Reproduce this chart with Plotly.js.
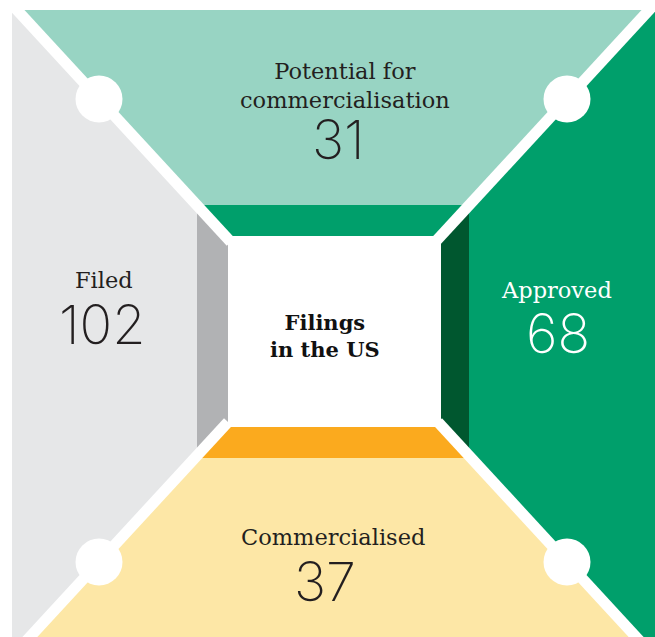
<!DOCTYPE html>
<html><head><meta charset="utf-8">
<script src="https://cdn.plot.ly/plotly-3.0.1.min.js"></script>
<style>html,body{margin:0;padding:0;background:#fff}</style>
</head><body><div id="chart" style="width:655px;height:637px"></div>
<script>
// Data
const categories = ['Filed', 'Potential for<br>commercialisation', 'Approved', 'Commercialised'];
const values = [102, 31, 68, 37];
const centreTitle = 'Filings<br>in the US';

// Geometry (pixel coordinate space)
const S = 1.085;
const tl = y => 99 + (y - 99) / S;
const tr = y => 567 - (y - 99) / S;
const bl = y => 99 + (562 - y) / S;
const br = y => 567 + (y - 562) / S;
const TOP = 10, LEFT = 12, YMAX = 700, XMAX = 700;

const C = {
  gray: '#E6E7E8', grayDark: '#B1B2B4', teal: '#98D4C3', green: '#009F6B',
  greenDark: '#00572F', orange: '#FBAA1E', yellow: '#FDE7A6', text: '#231F20'
};

function poly(xs, ys, color) {
  return {x: xs.concat([xs[0]]), y: ys.concat([ys[0]]), mode: 'lines', fill: 'toself',
    fillcolor: color, line: {width: 0, color: color}, hoverinfo: 'skip', showlegend: false};
}
const traces = [];
// base panels
traces.push(poly([LEFT, tl(TOP), 312, bl(YMAX), LEFT], [TOP, TOP, 330.5, YMAX, YMAX], C.gray));
traces.push(poly([tr(TOP), XMAX, XMAX, br(YMAX), 354], [TOP, TOP, YMAX, YMAX, 330.5], C.green));
// side strips
traces.push(poly([197, 228, 228, 197], [TOP, TOP, YMAX, YMAX], C.grayDark));
traces.push(poly([441, 469, 469, 441], [TOP, TOP, YMAX, YMAX], C.greenDark));
// top
traces.push(poly([tl(TOP), tr(TOP), tr(205), tl(205)], [TOP, TOP, 205, 205], C.teal));
traces.push(poly([tl(205), tr(205), 333], [205, 205, 353], C.green));
// bottom
traces.push(poly([bl(458), br(458), 333], [458, 458, 308], C.orange));
traces.push(poly([bl(458), br(458), br(YMAX), bl(YMAX)], [458, 458, YMAX, YMAX], C.yellow));
// centre
traces.push(poly([228, 441, 441, 228], [236, 236, 427, 427], '#FFFFFF'));
// white separators
function seg(x0, y0, x1, y1) {
  return {x: [x0, x1], y: [y0, y1], mode: 'lines', line: {color: '#FFFFFF', width: 11},
    hoverinfo: 'skip', showlegend: false};
}
traces.push(seg(tl(-30), -30, tl(242), 242));
traces.push(seg(tr(-30), -30, tr(242), 242));
traces.push(seg(bl(422), 422, bl(YMAX), YMAX));
traces.push(seg(br(422), 422, br(YMAX), YMAX));
// dots
traces.push({x: [99, 567, 99, 567], y: [99, 99, 562, 562], mode: 'markers',
  marker: {size: 47, color: '#FFFFFF', line: {width: 0}}, hoverinfo: 'skip', showlegend: false});

const labelFont = (c) => ({family: 'DejaVu Serif', size: 22.5, color: c});
const numFont = (c) => ({family: 'Inter, Lato, Open Sans', size: 54, color: c, weight: 200});
// positions: [labelX, labelY, numX, numY, colour]
const pos = [
  [104, 280, 102, 324, C.text],
  [345, 85, 338, 139, C.text],
  [556, 290, 558, 333, '#FFFFFF'],
  [333, 537, 325, 581, C.text]
];
const annotations = [];
categories.forEach((c, i) => {
  const p = pos[i];
  annotations.push({x: p[0], y: p[1], xref: 'x', yref: 'y', text: c, showarrow: false,
    font: labelFont(p[4]), xanchor: 'center', yanchor: 'middle'});
  annotations.push({x: p[2], y: p[3], xref: 'x', yref: 'y', text: String(values[i]), showarrow: false,
    font: numFont(p[4]), xanchor: 'center', yanchor: 'middle'});
});
annotations.push({x: 325, y: 336, xref: 'x', yref: 'y', text: '<b>' + centreTitle.replace('<br>', '</b><br><b>') + '</b>',
  showarrow: false, font: {family: 'DejaVu Serif', size: 21, color: '#111111'}, xanchor: 'center', yanchor: 'middle'});

const layout = {
  width: 655, height: 637, margin: {l: 0, r: 0, t: 0, b: 0},
  paper_bgcolor: '#FFFFFF', plot_bgcolor: '#FFFFFF',
  xaxis: {range: [0, 655], visible: false, fixedrange: true},
  yaxis: {range: [637, 0], visible: false, fixedrange: true},
  annotations: annotations, showlegend: false
};
Plotly.newPlot('chart', traces, layout, {staticPlot: true});
</script></body></html>
